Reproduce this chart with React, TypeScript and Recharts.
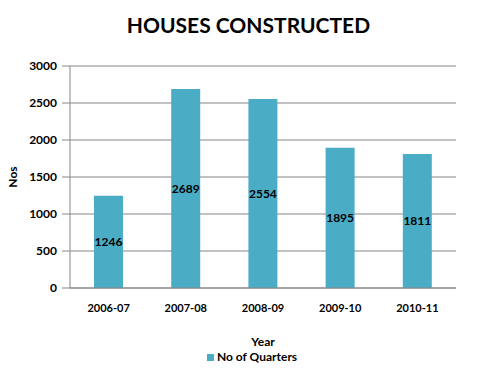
import { BarChart, Bar, XAxis, YAxis, CartesianGrid, Legend, LabelList } from "recharts";

const years = ["2006-07", "2007-08", "2008-09", "2009-10", "2010-11"];
const quarters = [1246, 2689, 2554, 1895, 1811];
const yTicks = [0, 500, 1000, 1500, 2000, 2500, 3000];

const data = years.map((year, i) => ({ year, quarters: quarters[i] }));

const FONT = "Lato, 'Open Sans', sans-serif";
const BAR = "#4BACC6";
const GRID = "#868686";

function LegendBox() {
  return (
    <div style={{ paddingLeft: 207, display: "flex", alignItems: "center", height: 18, fontFamily: FONT }}>
      <span style={{ width: 7, height: 7, background: BAR, display: "inline-block", marginRight: 3 }} />
      <span style={{ fontSize: 12, lineHeight: "14px", fontWeight: 700, color: "#000" }}>No of Quarters</span>
    </div>
  );
}

export default function App() {
  return (
    <div style={{ position: "absolute", left: 0, top: 0, width: 497, height: 386, background: "#fff" }}>
      <div
        style={{
          position: "absolute",
          top: 12,
          left: 0,
          width: 497,
          textAlign: "center",
          fontFamily: FONT,
          fontWeight: 700,
          fontSize: 21,
          color: "#000",
        }}
      >
        HOUSES CONSTRUCTED
      </div>
      <BarChart
        width={497}
        height={386}
        data={data}
        margin={{ top: 66, right: 41, bottom: 20, left: 0 }}
        barCategoryGap="31%"
      >
        <CartesianGrid vertical={false} stroke={GRID} strokeWidth={1} />
        <XAxis
          dataKey="year"
          height={60}
          axisLine={{ stroke: GRID }}
          tickLine={false}
          tickMargin={10}
          tick={{ fill: "#000", fontSize: 11, fontWeight: 700, fontFamily: FONT }}
          label={{
            value: "Year",
            position: "insideBottom",
            offset: 2,
            fill: "#000",
            fontSize: 12,
            fontWeight: 700,
            fontFamily: FONT,
          }}
        />
        <YAxis
          width={70}
          domain={[0, 3000]}
          ticks={yTicks}
          interval={0}
          axisLine={{ stroke: GRID }}
          tickLine={{ stroke: GRID }}
          tickSize={8}
          tickMargin={5}
          tick={{ fill: "#000", fontSize: 12, fontWeight: 700, fontFamily: FONT }}
          label={{
            value: "Nos",
            angle: -90,
            position: "insideLeft",
            offset: 13,
            style: { textAnchor: "middle" },
            fill: "#000",
            fontSize: 12,
            fontWeight: 700,
            fontFamily: FONT,
          }}
        />
        <Legend verticalAlign="bottom" height={18} content={<LegendBox />} />
        <Bar dataKey="quarters" name="No of Quarters" fill={BAR} barSize={29} isAnimationActive={false}>
          <LabelList
            dataKey="quarters"
            position="center"
            fill="#000"
            fontSize={12}
            fontWeight={700}
            fontFamily={FONT}
          />
        </Bar>
      </BarChart>
    </div>
  );
}
